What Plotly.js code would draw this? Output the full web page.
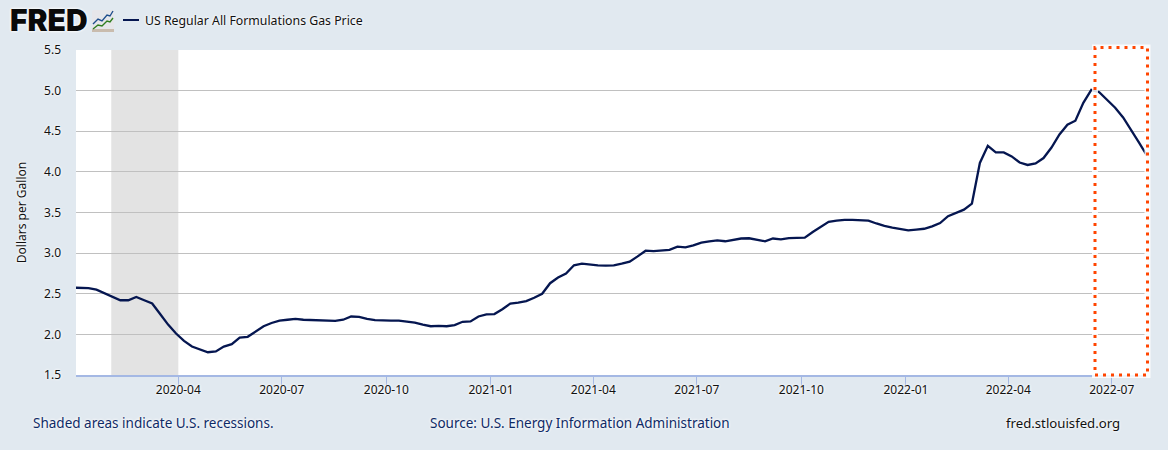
<!DOCTYPE html>
<html><head><meta charset="utf-8">
<script src="https://cdn.plot.ly/plotly-3.0.1.min.js"></script>
<style>html,body{margin:0;padding:0;background:#e1e9f0}</style></head>
<body><div id="chart" style="width:1168px;height:450px"></div>
<script>
const seriesName = "US Regular All Formulations Gas Price";
const firstWeek = "2019-12-30";
const gasPrice = [2.575,
2.575,2.57,2.55,2.51,2.47,2.42,2.42,2.46,2.42,2.38,2.25,2.12,2.01,1.92,1.85,1.81,1.78,1.79,1.85,1.88,
1.96,1.97,2.04,2.10,2.14,2.17,2.18,2.19,2.18,2.177,2.177,2.17,2.165,2.18,2.22,2.215,2.19,2.175,2.17,2.17,
2.17,2.155,2.145,2.12,2.10,2.105,2.10,2.115,2.155,2.16,2.22,2.245,2.25,2.31,2.38,2.39,2.41,2.45,2.50,2.63,
2.70,2.75,2.85,2.87,2.858,2.85,2.846,2.85,2.87,2.895,2.96,3.03,3.025,3.03,3.04,3.08,3.07,3.095,3.13,3.145,
3.158,3.146,3.165,3.18,3.183,3.16,3.146,3.18,3.17,3.185,3.183,3.19,3.26,3.325,3.385,3.40,3.41,3.41,3.405,3.40,
3.365,3.335,3.315,3.295,3.28,3.29,3.30,3.33,3.37,3.455,3.495,3.535,3.61,4.11,4.32,4.24,4.24,4.19,4.115,4.085,
4.105,4.17,4.30,4.46,4.58,4.63,4.85,5.01,4.98,4.88,4.79,4.67,4.52,4.36,4.20];
const recession = ["2020-02-02","2020-04-01"];
const xRange = ["2020-01-02","2022-08-01"];
const yTicks = [1.5,2.0,2.5,3.0,3.5,4.0,4.5,5.0,5.5];
const yTickLabels = ["1.5","2.0","2.5","3.0","3.5","4.0","4.5","5.0","5.5"];
const footerLeft = "Shaded areas indicate U.S. recessions.";
const footerMid = "Source: U.S. Energy Information Administration";
const footerRight = "fred.stlouisfed.org";

const L=76,R=1147,T=50,B=375;
const px=x=>(x-L)/(R-L), py=y=>(B-y)/(B-T);
const FONT='"Noto Sans", sans-serif', HALO='0 0 3px #fff, 0 0 3px #fff';
const note=(text,x,y,size,color,extra={})=>Object.assign({text,xref:'paper',yref:'paper',x:px(x),y:py(y),
  xanchor:'left',yanchor:'middle',showarrow:false,borderpad:0,
  font:{family:FONT,size,color,shadow:HALO}},extra);
const logoSvg=`<svg xmlns="http://www.w3.org/2000/svg" width="22" height="22" viewBox="0 0 22 22"><rect width="22" height="22" rx="2" fill="#e6e6ea"/><path d="M0 19H22V22H0Z" fill="#c9bcae"/><path d="M1 14L6 9L10 11L15 5L18 6L21 1" fill="none" stroke="#1f4e8c" stroke-width="1.4"/><path d="M1 19L6 15L10 16L15 11L18 12L21 8" fill="none" stroke="#2f7d1e" stroke-width="1.4"/></svg>`;

Plotly.newPlot('chart',[{
  type:'scatter',mode:'lines',name:seriesName,x0:firstWeek,dx:7*86400000,y:gasPrice,
  line:{color:'#051650',width:2.3},showlegend:false,cliponaxis:true
}],{
  width:1168,height:450,showlegend:false,
  paper_bgcolor:'#e1e9f0',plot_bgcolor:'#ffffff',
  margin:{l:L,r:1168-R,t:T,b:450-B,pad:0},
  font:{family:FONT,size:12,color:'#111'},
  xaxis:{type:'date',range:xRange,dtick:'M3',tick0:'2020-01-01',tickformat:'%Y-%m',
    showgrid:false,zeroline:false,showline:true,linecolor:'#a4b8e4',linewidth:1.5,
    ticks:'outside',ticklen:9,tickwidth:1,tickcolor:'#a4b8e4',ticklabelstandoff:-6,
    tickfont:{family:FONT,size:12,color:'#111',shadow:HALO}},
  yaxis:{range:[1.5,5.5],tickmode:'array',tickvals:yTicks,ticktext:yTickLabels,
    showgrid:true,gridcolor:'#c0c0c0',gridwidth:1,zeroline:false,showline:false,ticks:'',ticklabelstandoff:14,
    tickfont:{family:FONT,size:12,color:'#111',shadow:HALO},
    title:{text:'Dollars per Gallon',standoff:14,font:{family:FONT,size:12,color:'#111',shadow:HALO}}},
  images:[{source:'data:image/svg+xml;utf8,'+encodeURIComponent(logoSvg),xref:'paper',yref:'paper',
    x:px(92),y:py(10),sizex:22/(R-L),sizey:22/(B-T),xanchor:'left',yanchor:'top',sizing:'stretch',layer:'above'}],
  shapes:[
    {type:'rect',layer:'below',xref:'x',yref:'paper',x0:recession[0],x1:recession[1],y0:0,y1:1,
      fillcolor:'#e3e3e3',line:{width:0}},
    {type:'line',xref:'paper',yref:'paper',x0:px(123),x1:px(139),y0:py(20),y1:py(20),line:{color:'#051650',width:2}},
    {type:'rect',xref:'paper',yref:'paper',x0:px(1095),x1:px(1147.5),y0:py(375),y1:py(47.5),
      line:{color:'rgba(255,255,255,0.85)',width:6},fillcolor:'rgba(0,0,0,0)'},
    {type:'rect',xref:'paper',yref:'paper',x0:px(1095),x1:px(1147.5),y0:py(375),y1:py(47.5),
      line:{color:'#ff4500',width:3,dash:'3px,5px'},fillcolor:'rgba(0,0,0,0)'}
  ],
  annotations:[
    note('FRED',9,20,30,'#0a0a0a',{font:{family:'Inter, sans-serif',weight:900,size:30,color:'#0a0a0a',shadow:HALO}}),
    note(seriesName,143.5,20,12.3,'#111'),
    note(footerLeft,32,423,13.5,'#0f2a66'),
    note(footerMid,429,423,13.5,'#0f2a66'),
    note(footerRight,1005,423,13.2,'#111')
  ]
},{displayModeBar:false,staticPlot:true});
</script></body></html>
